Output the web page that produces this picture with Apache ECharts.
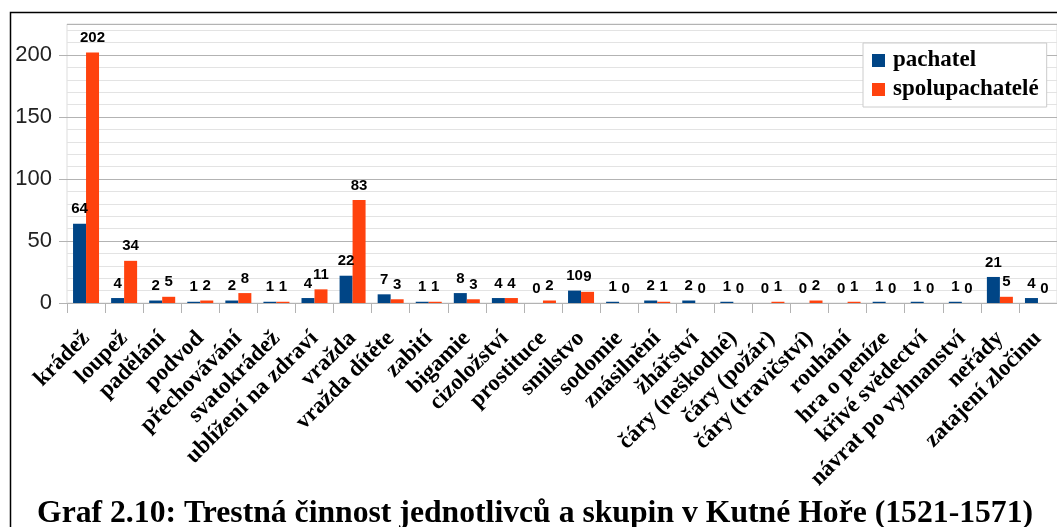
<!DOCTYPE html>
<html>
<head>
<meta charset="utf-8">
<title>Graf 2.10</title>
<script src="https://cdn.jsdelivr.net/npm/echarts@6/dist/echarts.min.js"></script>
<style>
  html, body { margin: 0; padding: 0; background: #fff; }
  #chart { width: 1057px; height: 527px; }
</style>
</head>
<body>
<div id="chart"></div>
<script>
var categories = ['krádež', 'loupež', 'padělání', 'podvod', 'přechovávání', 'svatokrádež',
    'ublížení na zdraví', 'vražda', 'vražda dítěte', 'zabití', 'bigamie', 'cizoložství',
    'prostituce', 'smilstvo', 'sodomie', 'znásilnění', 'žhářství', 'čáry (neškodné)',
    'čáry (požár)', 'čáry (travičství)', 'rouhání', 'hra o peníze', 'křivé svědectví',
    'návrat po vyhnanství', 'neřády', 'zatajení zločinu'];
var pachatel = [64, 4, 2, 1, 2, 1, 4, 22, 7, 1, 8, 4, 0, 10, 1, 2, 2, 1, 0, 0, 0, 1, 1, 1, 21, 4];
var spolupachatele = [202, 34, 5, 2, 8, 1, 11, 83, 3, 1, 3, 4, 2, 9, 0, 1, 0, 0, 1, 2, 1, 0, 0, 0, 5, 0];
var seriesNames = ['pachatel', 'spolupachatelé'];
var titleText = 'Graf 2.10: Trestná činnost jednotlivců a skupin v Kutné Hoře (1521-1571)';

var myChart = echarts.init(document.getElementById('chart'));

var valueLabel = {
    show: true,
    position: 'top',
    distance: 7,
    color: '#000',
    fontFamily: 'Liberation Sans',
    fontWeight: 'bold',
    fontSize: 15
};

var option = {
    animation: false,
    backgroundColor: '#fff',
    color: ['#004586', '#ff420e'],
    title: {
        text: titleText,
        left: 32,
        bottom: -8,
        textStyle: {
            fontFamily: 'Liberation Serif',
            fontWeight: 'bold',
            fontSize: 31.7,
            color: '#000'
        }
    },
    legend: {
        orient: 'vertical',
        left: 863,
        top: 43,
        width: 184,
        padding: [6, 8, 6, 9],
        itemGap: 6,
        itemWidth: 13,
        itemHeight: 13,
        backgroundColor: '#fff',
        borderColor: '#ccc',
        borderWidth: 1,
        icon: 'rect',
        textStyle: {
            fontFamily: 'Liberation Serif',
            fontWeight: 'bold',
            fontSize: 23,
            color: '#000',
            padding: [0, 0, 0, 3]
        },
        data: seriesNames
    },
    graphic: [{
        type: 'rect',
        silent: true,
        shape: { x: 10.5, y: 12.5, width: 1100, height: 600 },
        style: { fill: null, stroke: '#000', lineWidth: 1.5 }
    }],
    grid: {
        left: 67,
        top: 24,
        right: -7,
        bottom: 224,
        show: true,
        borderColor: '#ddd',
        borderWidth: 1
    },
    xAxis: {
        type: 'category',
        data: categories,
        axisLine: { lineStyle: { color: '#b3b3b3', width: 1 } },
        axisTick: { show: true, length: 10, lineStyle: { color: '#b3b3b3' } },
        axisLabel: {
            interval: 0,
            rotate: 45,
            margin: 32,
            fontFamily: 'Liberation Serif',
            fontWeight: 'bold',
            fontSize: 23,
            color: '#000'
        }
    },
    yAxis: [{
        type: 'value',
        min: 0,
        max: 225,
        interval: 50,
        axisLine: { show: false },
        axisTick: { show: true, length: 8, lineStyle: { color: '#b3b3b3' } },
        axisLabel: {
            showMaxLabel: false,
            margin: 15,
            fontFamily: 'Liberation Sans',
            fontSize: 22,
            color: '#222'
        },
        splitLine: { lineStyle: { color: '#b3b3b3' } },
        z: 3
    }, {
        type: 'value',
        position: 'left',
        min: 0,
        max: 225,
        interval: 10,
        axisLine: { show: false },
        axisTick: { show: false },
        axisLabel: { show: false },
        splitLine: { lineStyle: { color: '#e3e3e3' } },
        z: 1
    }],
    series: [{
        name: seriesNames[0],
        type: 'bar',
        data: pachatel,
        barWidth: 13,
        barGap: '0%',
        label: valueLabel,
        z: 5
    }, {
        name: seriesNames[1],
        type: 'bar',
        data: spolupachatele,
        barWidth: 13,
        barGap: '0%',
        label: valueLabel,
        z: 5
    }]
};

myChart.setOption(option);
</script>
</body>
</html>
